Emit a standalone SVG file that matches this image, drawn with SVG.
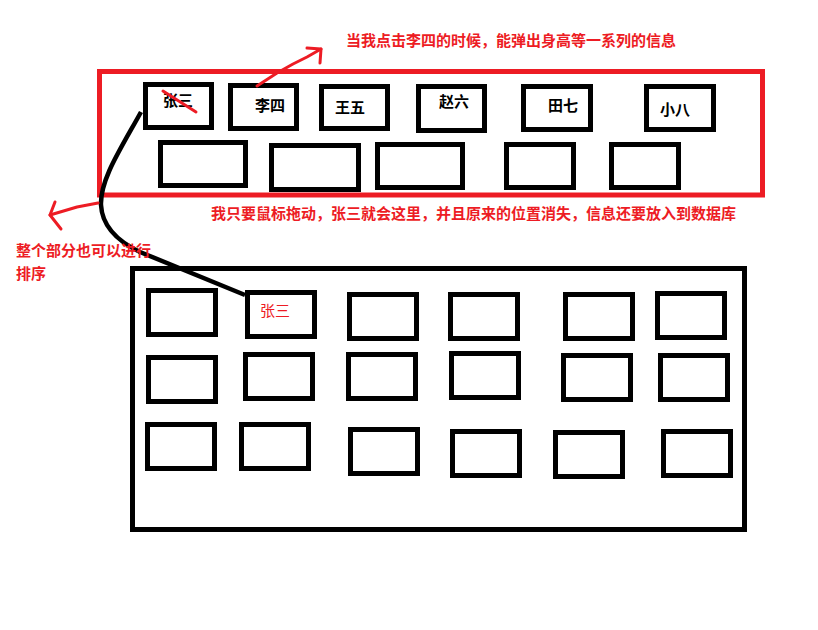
<svg xmlns="http://www.w3.org/2000/svg" width="818" height="630" viewBox="0 0 818 630">
<style>
.box{fill:none;stroke:#000;stroke-width:5}
.frame{fill:none;stroke:#000;stroke-width:5}
.rframe{fill:none;stroke:#ed1c24;stroke-width:5}
.lbl{font-family:"Noto Sans CJK SC","Microsoft YaHei",sans-serif;font-size:15px;font-weight:bold;fill:#000}
.rlbl{font-family:"Noto Sans CJK SC","Microsoft YaHei",sans-serif;font-size:15px;fill:#ed1c24}
.note{font-family:"Noto Sans CJK SC","Microsoft YaHei",sans-serif;font-size:15px;font-weight:bold;fill:#ed1c24}
.rline{fill:none;stroke:#ed1c24;stroke-width:3;stroke-linecap:round;stroke-linejoin:round}
</style>
<rect width="818" height="630" fill="#fff"/>
<g id="top-frame"><rect class="rframe" x="99.5" y="71.5" width="663" height="123.5"/></g>
<g id="bottom-frame"><rect class="frame" x="132.5" y="268.5" width="612" height="261"/></g>

<g id="n-zhangsan"><rect class="box" x="145.5" y="84.5" width="66" height="43"/><text class="lbl" x="163" y="106">张三</text></g>
<g id="n-lisi"><rect class="box" x="230.5" y="85.5" width="66" height="43"/><text class="lbl" x="255" y="111">李四</text></g>
<g id="n-wangwu"><rect class="box" x="321.5" y="86.5" width="66" height="42"/><text class="lbl" x="335" y="113">王五</text></g>
<g id="n-zhaoliu"><rect class="box" x="418.5" y="86.5" width="66" height="44"/><text class="lbl" x="439" y="107">赵六</text></g>
<g id="n-tianqi"><rect class="box" x="523.5" y="86.5" width="67" height="43"/><text class="lbl" x="548" y="111">田七</text></g>
<g id="n-xiaoba"><rect class="box" x="646.5" y="86.5" width="67" height="43"/><text class="lbl" x="660" y="115">小八</text></g>

<g id="t2-1"><rect class="box" x="160.5" y="142.5" width="85" height="43"/></g>
<g id="t2-2"><rect class="box" x="271.5" y="145.5" width="87" height="44"/></g>
<g id="t2-3"><rect class="box" x="377.5" y="144.5" width="85" height="43"/></g>
<g id="t2-4"><rect class="box" x="506.5" y="144.5" width="67" height="43"/></g>
<g id="t2-5"><rect class="box" x="611.5" y="144.5" width="67" height="43"/></g>

<g id="b1-1"><rect class="box" x="148.5" y="290.5" width="67" height="44"/></g>
<g id="b1-2"><rect class="box" x="247.5" y="292.5" width="67" height="44"/><text class="rlbl" x="260" y="316">张三</text></g>
<g id="b1-3"><rect class="box" x="349.5" y="294.5" width="67" height="44"/></g>
<g id="b1-4"><rect class="box" x="450.5" y="294.5" width="67" height="44"/></g>
<g id="b1-5"><rect class="box" x="565.5" y="294.5" width="67" height="44"/></g>
<g id="b1-6"><rect class="box" x="657.5" y="293.5" width="67" height="44"/></g>
<g id="b2-1"><rect class="box" x="148.5" y="357.5" width="67" height="44"/></g>
<g id="b2-2"><rect class="box" x="245.5" y="354.5" width="67" height="44"/></g>
<g id="b2-3"><rect class="box" x="348.5" y="354.5" width="67" height="44"/></g>
<g id="b2-4"><rect class="box" x="451.5" y="353.5" width="67" height="44"/></g>
<g id="b2-5"><rect class="box" x="563.5" y="355.5" width="67" height="44"/></g>
<g id="b2-6"><rect class="box" x="660.5" y="355.5" width="67" height="44"/></g>
<g id="b3-1"><rect class="box" x="147.5" y="424.5" width="67" height="44"/></g>
<g id="b3-2"><rect class="box" x="241.5" y="424.5" width="67" height="44"/></g>
<g id="b3-3"><rect class="box" x="350.5" y="429.5" width="67" height="44"/></g>
<g id="b3-4"><rect class="box" x="452.5" y="431.5" width="67" height="44"/></g>
<g id="b3-5"><rect class="box" x="555.5" y="432.5" width="67" height="44"/></g>
<g id="b3-6"><rect class="box" x="663.5" y="431.5" width="67" height="44"/></g>

<g id="connectors">
<path d="M141 112 C120 150 100 180 101 205 C102 225 115 240 140 252 L245 295" fill="none" stroke="#000" stroke-width="4.5"/>
<path class="rline" d="M163 91 L196 112"/>
<path class="rline" d="M257 86 L277 73 L293 64 L307 57 L321 49"/>
<path class="rline" d="M307 48 L321 49 L320 63"/>
<path class="rline" d="M98 203 L77 207 L50 215"/>
<path class="rline" d="M55 202 L50 215 L61 229"/>
</g>

<g id="notes">
<text class="note" x="346" y="45.5">当我点击李四的时候，能弹出身高等一系列的信息</text>
<text class="note" x="211" y="219">我只要鼠标拖动，张三就会这里，并且原来的位置消失，信息还要放入到数据库</text>
<text class="note" x="16" y="256">整个部分也可以进行</text>
<text class="note" x="16" y="279">排序</text>
</g>
</svg>
